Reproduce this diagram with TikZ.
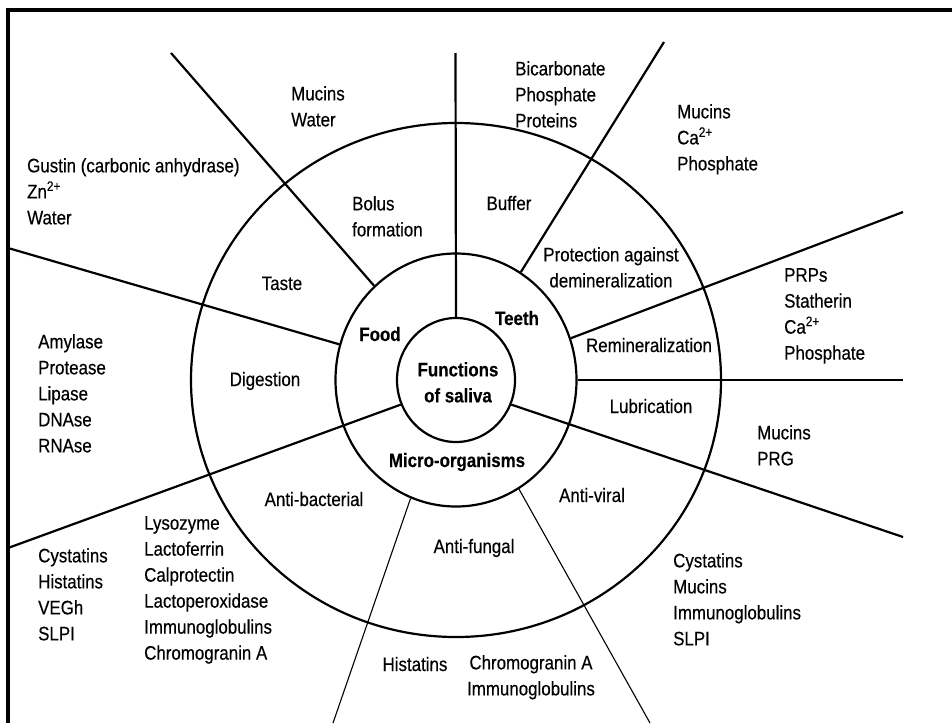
\documentclass[tikz,border=0pt]{standalone}
\usepackage{fontspec}
\setmainfont{Liberation Sans}[FakeStretch=0.867, FakeBold=0.35]
\usetikzlibrary{shapes.geometric}
\begin{document}
\begin{tikzpicture}[x=1pt,y=-1pt,
  every node/.style={inner sep=0pt, font=\fontsize{19.5pt}{26pt}\selectfont},
  lbl/.style={anchor=base},
  lst/.style={anchor=north west, align=left},
  ctr/.style={anchor=north, align=center},
  bld/.style={font=\fontsize{19.5pt}{26pt}\selectfont\bfseries},
  ring/.style={draw, ellipse, line width=2.2pt, inner sep=0pt},
  spoke/.style={line width=2.2pt},
  thinspoke/.style={line width=1.1pt},
  frameline/.style={line width=3.4pt}
]
\useasboundingbox (0,0) rectangle (952,723);
\fill[white] (0,0) rectangle (952,723);
\draw[frameline] (8,723) -- (8,10) -- (952,10);

% rings
\node[ring, minimum width=530pt, minimum height=514pt] (outer) at (456,380) {};
\node[ring, minimum width=241pt, minimum height=253pt] (mid) at (456,380) {};
\node[ring, minimum width=118pt, minimum height=124pt] (inner) at (456,380) {};

% free ends of the spokes
\coordinate (eTop) at (455.5,53);
\coordinate (eBT) at (171,53);
\coordinate (eTD) at (8,248);
\coordinate (eDA) at (8,548);
\coordinate (eBP) at (664,42);
\coordinate (ePR) at (903,212);
\coordinate (eRL) at (903,380);
\coordinate (eLV) at (903,537);
\coordinate (eBF) at (333,723);
\coordinate (eFV) at (650,723);

\draw[spoke] (inner.90) -- (eTop);
\draw[spoke] (mid.131) -- (eBT);
\draw[spoke] (mid.163) -- (eTD);
\draw[spoke] (inner.204) -- (eDA);
\draw[spoke] (mid.59) -- (eBP);
\draw[spoke] (mid.20) -- (ePR);
\draw[spoke] (mid.0) -- (eRL);
\draw[spoke] (inner.336) -- (eLV);
\draw[thinspoke] (mid.249) -- (eBF);
\draw[thinspoke] (mid.300) -- (eFV);

% centre and middle ring
\node[ctr, bld] (fs) at (458,362) {Functions\\of saliva};
\node[lbl, bld] (food) at (380,341) {Food};
\node[lbl, bld] (teeth) at (517,325) {Teeth};
\node[lbl, bld] (micro) at (457,467) {Micro-organisms};

% outer ring labels
\node[lst] (bolus) at (352,196) {Bolus\\formation};
\node[lbl] (buffer) at (509,210) {Buffer};
\node[ctr] (prot) at (611,247) {Protection against\\demineralization};
\node[lbl] (taste) at (282,290) {Taste};
\node[lbl] (remin) at (649,352) {Remineralization};
\node[lbl] (digest) at (265,386) {Digestion};
\node[lbl] (lubr) at (651,413) {Lubrication};
\node[lbl] (antib) at (314,506) {Anti-bacterial};
\node[lbl] (antiv) at (592,502) {Anti-viral};
\node[lbl] (antif) at (474,553) {Anti-fungal};

% outside lists
\node[lst] (l1) at (291,86) {Mucins\\Water};
\node[lst] (l2) at (27,158) {Gustin (carbonic anhydrase)\\Zn\textsuperscript{2+}\\Water};
\node[lst] (l3) at (515,61) {Bicarbonate\\Phosphate\\Proteins};
\node[lst] (l4) at (677,104) {Mucins\\Ca\textsuperscript{2+}\\Phosphate};
\node[lst] (l5) at (784,268) {PRPs\\Statherin\\Ca\textsuperscript{2+}\\Phosphate};
\node[lst] (l6) at (757,425) {Mucins\\PRG};
\node[lst] (l7) at (38,334) {Amylase\\Protease\\Lipase\\DNAse\\RNAse};
\node[lst] (l8) at (144,516) {Lysozyme\\Lactoferrin\\Calprotectin\\Lactoperoxidase\\Immunoglobulins\\Chromogranin A};
\node[lst] (l9) at (38,548) {Cystatins\\Histatins\\VEGh\\SLPI};
\node[lst] (l10) at (673,553) {Cystatins\\Mucins\\Immunoglobulins\\SLPI};
\node[lbl] (l11) at (415,671) {Histatins};
\node[ctr] (l12) at (531,655) {Chromogranin A\\Immunoglobulins};
\end{tikzpicture}
\end{document}
